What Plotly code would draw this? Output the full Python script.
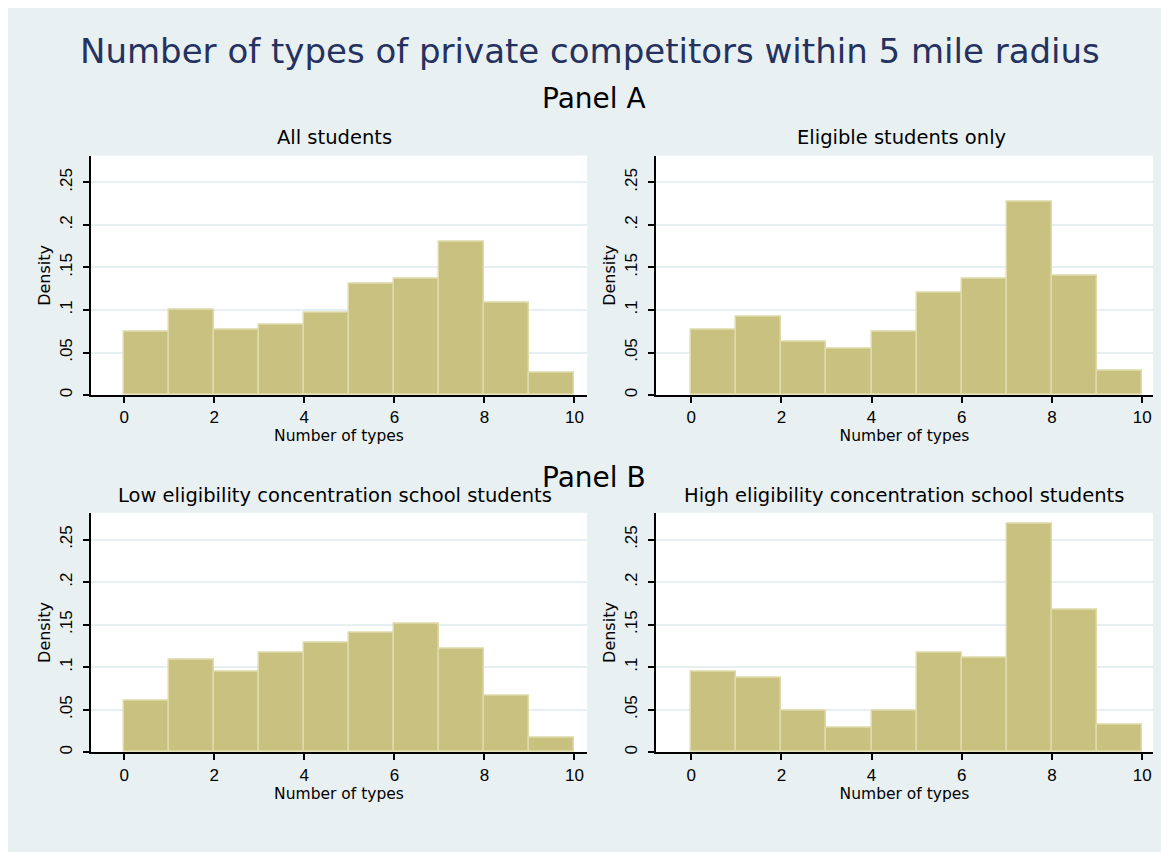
import plotly.graph_objects as go
from plotly.subplots import make_subplots

# ---- data (densities) ----
bin_edges = [0, 1, 2, 3, 4, 5, 6, 7, 8, 9, 10]
all_students = [0.075, 0.100, 0.077, 0.083, 0.097, 0.131, 0.137, 0.180, 0.109, 0.026]
eligible_only = [0.0775, 0.092, 0.063, 0.055, 0.075, 0.120, 0.137, 0.228, 0.140, 0.029]
low_elig = [0.0606, 0.1087, 0.094, 0.117, 0.129, 0.140, 0.151, 0.122, 0.066, 0.017]
high_elig = [0.094, 0.088, 0.049, 0.029, 0.049, 0.117, 0.111, 0.268, 0.168, 0.032]
panel_titles = ["All students", "Eligible students only",
                "Low eligibility concentration school students",
                "High eligibility concentration school students"]
x_ticks = [0, 2, 4, 6, 8, 10]
y_ticks = [0, 0.05, 0.1, 0.15, 0.2, 0.25]
y_tick_labels = ["0", ".05", ".1", ".15", ".2", ".25"]

OFF = 8  # page body margin
W, H = 1169 - OFF, 852 - OFF
BG = "#E8F0F2"
BAR = "#C9C180"
BAR_EDGE = "#DEDAAA"
FONT = "Liberation Sans"
WFONT = "DejaVu Sans"


def fx(p):
    return (p - OFF) / W


def fy(p):
    return 1 - (p - OFF) / H


centers = [(a + b) / 2 for a, b in zip(bin_edges[:-1], bin_edges[1:])]
widths = [b - a for a, b in zip(bin_edges[:-1], bin_edges[1:])]

fig = make_subplots(rows=2, cols=2)
series = [all_students, eligible_only, low_elig, high_elig]
pos = [(1, 1), (1, 2), (2, 1), (2, 2)]
for vals, (r, c) in zip(series, pos):
    fig.add_trace(go.Bar(x=centers, y=vals, width=widths,
                         marker=dict(color=BAR, line=dict(color=BAR_EDGE, width=1.5)),
                         showlegend=False, hoverinfo="x+y"), row=r, col=c)

# pixel boxes of the four plot regions (left, right, top, bottom)
boxes = [(91, 587, 156, 396), (656, 1153, 156, 396),
         (91, 587, 514, 754), (656, 1153, 514, 754)]
xr = [[-0.74, 10.28], [-0.78, 10.24], [-0.74, 10.28], [-0.78, 10.24]]

for i, (l, rgt, t, b) in enumerate(boxes):
    sfx = "" if i == 0 else str(i + 1)
    fig.layout["xaxis" + sfx].update(
        domain=[fx(l), fx(rgt)], range=xr[i], tickvals=x_ticks,
        showgrid=False, zeroline=False, showline=True, linecolor="black", linewidth=2,
        ticks="outside", ticklen=6, tickwidth=2, tickcolor="black",
        tickfont=dict(family=FONT, size=17, color="black"),
        title=dict(text="Number of types", standoff=2,
                   font=dict(family=WFONT, size=15.5, color="black")))
    fig.layout["yaxis" + sfx].update(
        domain=[fy(b), fy(t)], range=[0, 0.2815], tickvals=y_ticks, ticktext=y_tick_labels,
        tickangle=-90, showgrid=True, gridcolor="#E6EFF1", gridwidth=2,
        zeroline=False, showline=True, linecolor="black", linewidth=2,
        ticks="outside", ticklen=6, tickwidth=2, tickcolor="black", ticklabelstandoff=4,
        tickfont=dict(family=FONT, size=17, color="black"),
        title=dict(text="Density", standoff=3,
                   font=dict(family=WFONT, size=16, color="black")))

annotations = [
    dict(text="Number of types of private competitors within 5 mile radius",
         x=fx(590), y=fy(51), font=dict(family=WFONT, size=34, color="#25325F")),
    dict(text="Panel A", x=fx(594), y=fy(99), font=dict(family=WFONT, size=28, color="black")),
    dict(text="Panel B", x=fx(594), y=fy(479), font=dict(family=WFONT, size=28, color="black")),
    dict(text=panel_titles[0], x=fx(334), y=fy(138), font=dict(family=WFONT, size=19.5, color="black")),
    dict(text=panel_titles[1], x=fx(901), y=fy(138), font=dict(family=WFONT, size=19.5, color="black")),
    dict(text=panel_titles[2], x=fx(335), y=fy(497), font=dict(family=WFONT, size=19.5, color="black")),
    dict(text=panel_titles[3], x=fx(904), y=fy(497), font=dict(family=WFONT, size=19.5, color="black")),
]
for a in annotations:
    a.update(xref="paper", yref="paper", showarrow=False, xanchor="center", yanchor="middle")

fig.update_layout(width=W, height=H, margin=dict(l=0, r=0, t=0, b=0),
                  paper_bgcolor=BG, plot_bgcolor="white", bargap=0,
                  annotations=annotations, showlegend=False)
fig.write_html("out.html")
